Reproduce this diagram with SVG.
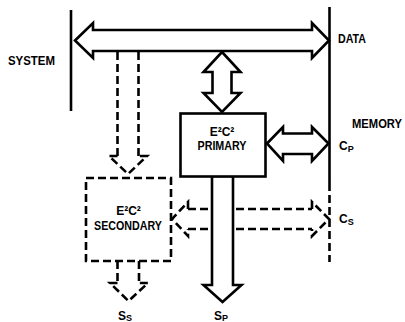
<svg xmlns="http://www.w3.org/2000/svg" width="405" height="322" viewBox="0 0 405 322">
<style>
.ln{fill:none;stroke:#000;stroke-width:2.6}
.dl{fill:none;stroke:#000;stroke-width:2.6;stroke-dasharray:8 4}
.ar{fill:#fff;stroke:#000;stroke-width:2.6;stroke-linejoin:miter}
.bx{fill:#fff;stroke:#000;stroke-width:2.6}
.dbx{fill:#fff;stroke:#000;stroke-width:2.6;stroke-dasharray:8 4}
text{font-family:"Liberation Sans",Arial,sans-serif;font-weight:bold;fill:#000}
.lb{font-size:12px}
.bt{font-size:12px;text-anchor:middle}
.sub{font-size:9px}
</style>
<rect width="405" height="322" fill="#fff"/>
<g id="system">
<line class="ln" x1="71" y1="10" x2="71" y2="111"/>
<text class="lb" x="8" y="64.5" textLength="47" lengthAdjust="spacingAndGlyphs">SYSTEM</text>
</g>
<g id="memory">
<line class="ln" x1="329.5" y1="7" x2="329.5" y2="183"/>
<line class="dl" x1="329.5" y1="183" x2="329.5" y2="262"/>
<text class="lb" x="352" y="128" textLength="50" lengthAdjust="spacingAndGlyphs">MEMORY</text>
</g>
<g id="connectors">
<polygon class="ar" points="75,40.5 93,23 93,30 312,30 312,23 329,40.5 312,58 312,51 93,51 93,58"/>
<polygon class="ar" points="222,52 240.5,72 231.5,72 231.5,93 240.5,93 222,112 203.5,93 212.5,93 212.5,72 203.5,72"/>
<polygon class="ar" points="267,143.5 283,127 283,133.5 312,133.5 312,127 328.5,143.5 312,161 312,154 283,154 283,161"/>
<line class="dl" x1="117.5" y1="52" x2="117.5" y2="156"/>
<line class="dl" x1="138.5" y1="52" x2="138.5" y2="156"/>
<polyline class="dl" points="117.5,156 109,156 128,174 147,156 138.5,156"/>
<line class="dl" x1="117.5" y1="261" x2="117.5" y2="283"/>
<line class="dl" x1="139" y1="261" x2="139" y2="283"/>
<polyline class="dl" points="117.5,283 110,283 128.5,301 148,283 139,283"/>
<line class="dl" x1="188" y1="209" x2="312" y2="209"/>
<line class="dl" x1="188" y1="229" x2="312" y2="229"/>
<polyline class="dl" points="188,209 188,202 172,219 188,236 188,229"/>
<polyline class="dl" points="312,209 312,202 329,219 312,236 312,229"/>
<polygon class="ar" points="212,176 233,176 233,285 241.5,285 222.5,302 203.5,285 212,285"/>
</g>
<g id="primary">
<rect class="bx" x="180.5" y="113.5" width="85" height="63"/>
<text class="bt" x="222" y="135.5">E²C²</text>
<text class="bt" x="222" y="149.5" textLength="49" lengthAdjust="spacingAndGlyphs">PRIMARY</text>
</g>
<g id="secondary">
<rect class="dbx" x="86" y="178" width="85" height="83"/>
<text class="bt" x="128.5" y="215">E²C²</text>
<text class="bt" x="128" y="230" textLength="68" lengthAdjust="spacingAndGlyphs">SECONDARY</text>
</g>
<g id="labels">
<text class="lb" x="338" y="42.5" textLength="28" lengthAdjust="spacingAndGlyphs">DATA</text>
<text class="lb" x="339" y="150">C<tspan class="sub" dy="2">P</tspan></text>
<text class="lb" x="339" y="222.5">C<tspan class="sub" dy="2.5">S</tspan></text>
<text class="lb" x="118" y="319.5">S<tspan class="sub" dy="1.5">S</tspan></text>
<text class="lb" x="214" y="319.5">S<tspan class="sub" dy="1.5">P</tspan></text>
</g>
</svg>
